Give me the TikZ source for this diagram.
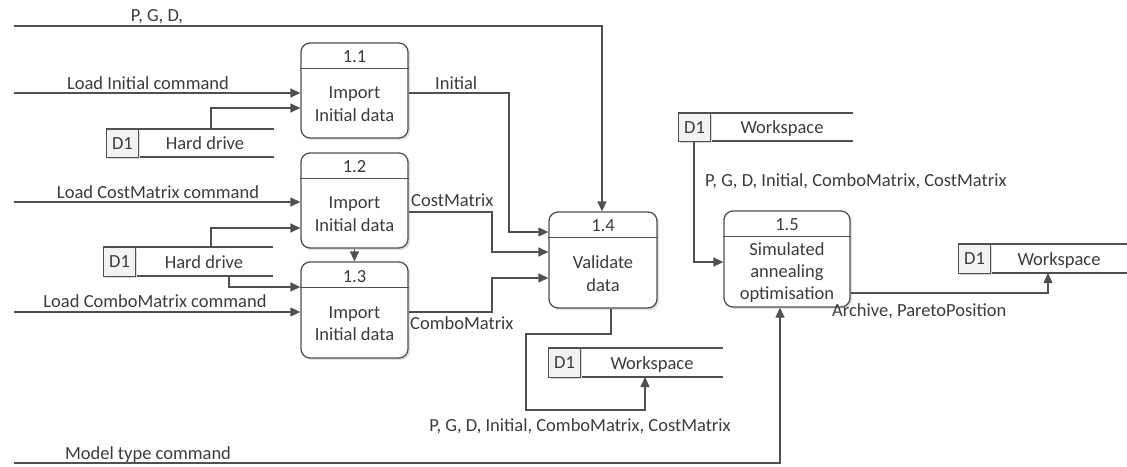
\documentclass[tikz,border=0pt]{standalone}
\usepackage{fontspec}
\setmainfont{Carlito}
\usetikzlibrary{arrows.meta,calc}
\definecolor{txt}{RGB}{60,60,60}
\definecolor{ln}{RGB}{80,80,80}
\definecolor{dfill}{RGB}{242,242,242}
\begin{document}
\begin{tikzpicture}[x=1pt,y=-1pt,
  every node/.style={text=txt,font=\fontsize{18.5}{22.5}\selectfont},
  proc/.style={draw=ln,line width=1.3pt,rounded corners=9pt,fill=white,minimum width=107pt,inner sep=0pt},
  flow/.style={draw=ln,line width=1.3pt,-{Triangle[length=10pt,width=9pt]}},
  plain/.style={draw=ln,line width=1.3pt},
  lbl/.style={anchor=base,inner sep=0pt},
  dbox/.style={draw=ln,line width=1pt,fill=dfill,inner sep=0pt,minimum width=32pt,minimum height=28pt}
]
\useasboundingbox (0,0) rectangle (1127,466);
\fill[white] (0,0) rectangle (1127,466);

% ---------- process boxes ----------
\newcommand{\procbox}[6]{% name, cx, cy, w, h, header offset
  \fill[black!12,rounded corners=9pt] ({#2-#4/2+2},{#3-#5/2+2}) rectangle ({#2+#4/2+2},{#3+#5/2+2});
  \node[proc,minimum width=#4pt,minimum height=#5pt] (#1) at (#2,#3) {};
  \draw[ln,line width=1.3pt] ($(#1.north west)+(0,#6)$) -- ($(#1.north east)+(0,#6)$);
}
\procbox{p11}{354.5}{90.5}{107}{95}{26}
\procbox{p12}{354.5}{200.5}{107}{95}{26}
\procbox{p13}{354.5}{310}{107}{96}{26}
\procbox{p14}{603}{260}{108}{96}{26}
\procbox{p15}{787}{259}{126}{96}{26}

\node[lbl] at (354.5,62) {1.1};
\node[lbl] at (354.5,172) {1.2};
\node[lbl] at (354.5,282) {1.3};
\node[lbl] at (603,231) {1.4};
\node[lbl] at (787,230) {1.5};

\node[align=center,inner sep=0pt] (t11) at (354.5,104) {Import\\Initial data};
\node[align=center,inner sep=0pt] (t12) at (354.5,214) {Import\\Initial data};
\node[align=center,inner sep=0pt] (t13) at (354.5,323.5) {Import\\Initial data};
\node[align=center,inner sep=0pt] (t14) at (603,273.5) {Validate\\data};
\node[align=center,inner sep=0pt,font=\fontsize{18.5}{22}\selectfont] (t15) at (787,273) {Simulated\\annealing\\optimisation};

% ---------- data stores ----------
\newcommand{\store}[7]{% name, x0, ytop, ybot, xend, label, labelx
  \draw[plain] (#2,#3) -- (#5,#3);
  \draw[plain] (#2,#4) -- (#5,#4);
  \fill[black!15] ({#2+2},{#3+2}) rectangle ({#2+34},{#4+2});
  \node[dbox,anchor=north west,minimum height={#4-#3}] (#1) at (#2,#3) {};
  \node at (#1.center) {D1};
  \node[lbl] at (#7,{(#3+#4)/2+6.5}) {#6};
}
\store{hd1}{106}{129}{157}{274}{Hard drive}{205}
\store{hd2}{103}{247}{276}{273}{Hard drive}{204}
\store{ws1}{548}{348}{377}{723}{Workspace}{652}
\store{ws2}{678}{113}{141}{853}{Workspace}{782}
\store{ws3}{958}{244}{273}{1127}{Workspace}{1059}

% ---------- free ends ----------
\coordinate (in0) at (14,26);
\coordinate (in1) at (14,93);
\coordinate (in2) at (14,202);
\coordinate (in3) at (14,312);
\coordinate (in4) at (14,463);

% ---------- connectors ----------
\draw[flow] (in0) -- (602,26) -- (602,26 |- p14.north);
\node[lbl] at (157,21) {P, G, D,};

\draw[flow] (in1) -- (in1 -| p11.west);
\node[lbl] at (148,89) {Load Initial command};

\draw[flow] (211,129) -- (211,108) -- (211,108 -| p11.west);

\draw[flow] (p11.east |- 0,93) -- (509,93) -- (509,232) -- (509,232 -| p14.west);
\node[lbl,anchor=base west] at (435,89) {Initial};

\draw[flow] (in2) -- (in2 -| p12.west);
\node[lbl] at (158,198) {Load CostMatrix command};

\draw[flow] (211,247) -- (211,228) -- (211,228 -| p12.west);

\draw[flow] (p12.south) -- (p13.north);

\draw[flow] (229,276) -- (229,287) -- (229,287 -| p13.west);

\draw[flow] (in3) -- (in3 -| p13.west);
\node[lbl] at (155,307) {Load ComboMatrix command};

\draw[flow] (p12.east |- 0,212) -- (492,212) -- (492,252) -- (492,252 -| p14.west);
\node[lbl,anchor=base west] at (411,206) {CostMatrix};

\draw[flow] (p13.east |- 0,312) -- (492,312) -- (492,278) -- (492,278 -| p14.west);
\node[lbl,anchor=base west] at (410,329) {ComboMatrix};

\draw[flow] (611,0 |- p14.south) -- (611,334) -- (526,334) -- (526,410) -- (645,410) -- (645,377);
\node[lbl] at (580,431) {P, G, D, Initial, ComboMatrix, CostMatrix};

\draw[flow] (694,141) -- (694,262) -- (694,262 -| p15.west);
\node[lbl,anchor=base west] at (705,186) {P, G, D, Initial, ComboMatrix, CostMatrix};

\draw[flow] (p15.east |- 0,293) -- (1048,293) -- (1048,273);
\node[lbl,anchor=base west] at (832,316) {Archive, ParetoPosition};

\draw[flow] (in4) -- (780,463) -- (780,0 |- p15.south);
\node[lbl] at (148,459) {Model type command};
\end{tikzpicture}
\end{document}
